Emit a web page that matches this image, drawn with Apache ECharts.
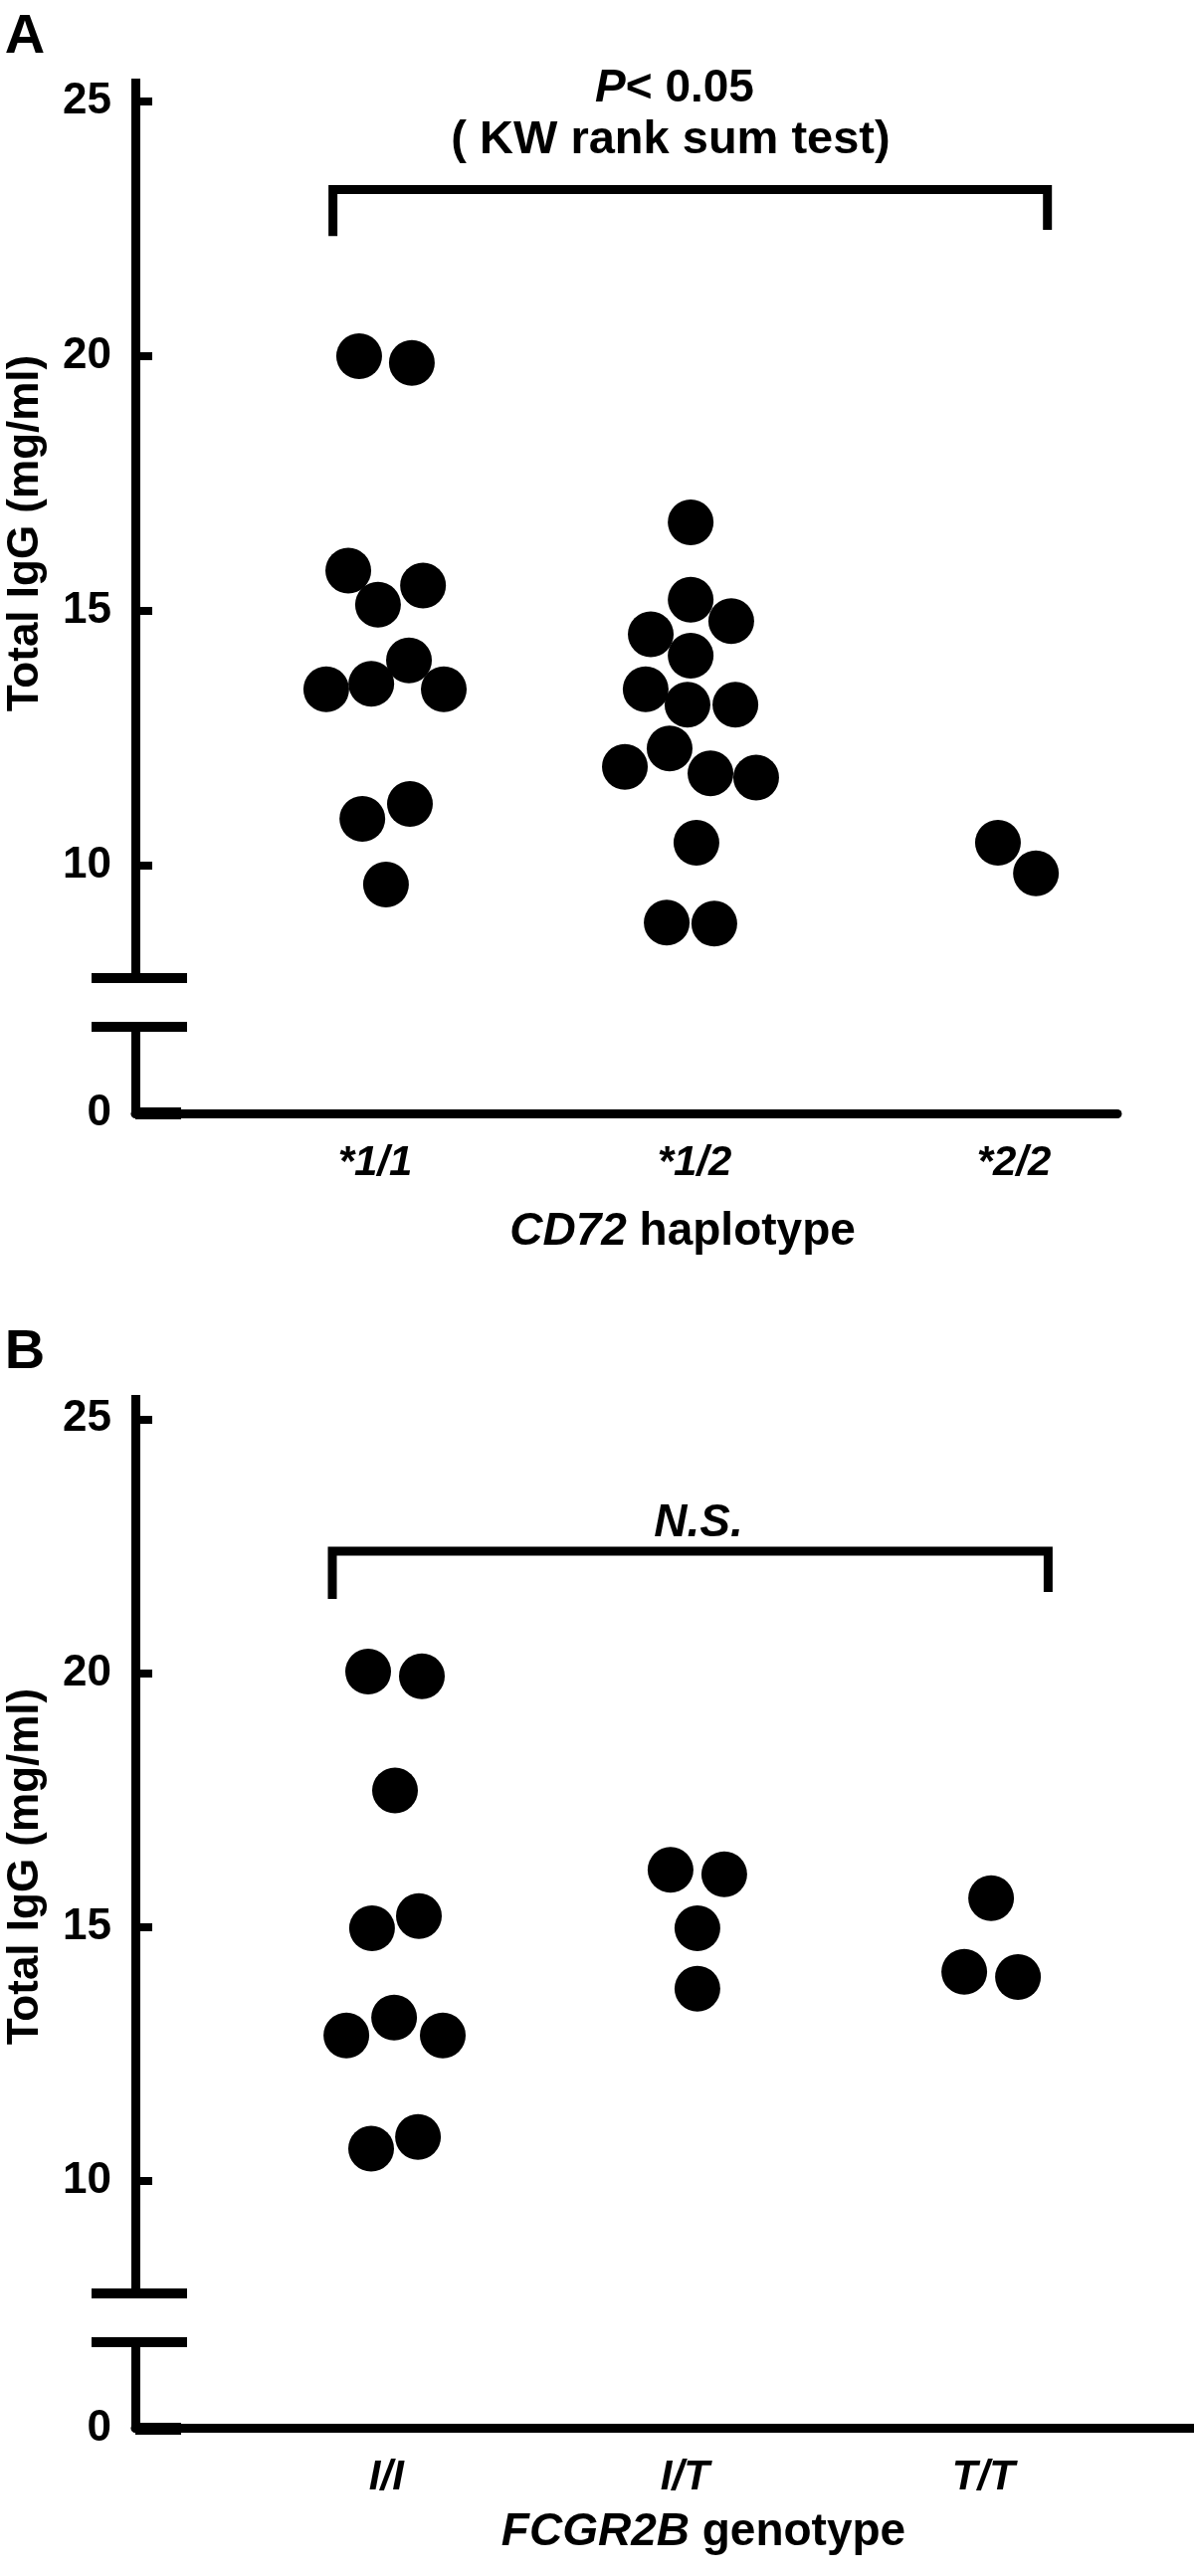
<!DOCTYPE html>
<html>
<head>
<meta charset="utf-8">
<script src="https://cdn.jsdelivr.net/npm/echarts@6/dist/echarts.min.js"></script>
<style>
  html, body { margin: 0; padding: 0; background: #fff; }
  #chart { width: 1200px; height: 2589px; }
</style>
</head>
<body>
<div id="chart"></div>
<script>
// ---------------- DATA ----------------
const catsA = ['*1/1', '*1/2', '*2/2'];
const catsB = ['I/I', 'I/T', 'T/T'];
const yTicks = [10, 15, 20, 25];
const zeroTick = [0];

// Panel A: CD72 haplotype, total IgG (mg/ml); jitter in category units
const a11Values = [20.0, 19.87, 15.79, 15.50, 15.12, 14.03, 13.57, 13.46, 13.46, 11.21, 10.92, 9.63];
const a11Jitter = [-0.050, 0.115, -0.084, 0.150, 0.009, 0.106, -0.012, -0.153, 0.215, 0.109, -0.040, 0.034];
const a12Values = [16.74, 15.22, 14.80, 14.54, 14.12, 13.46, 13.16, 13.16, 12.30, 11.94, 11.81, 11.73, 10.45, 8.88, 8.86];
const a12Jitter = [-0.012, -0.012, 0.115, -0.137, -0.012, -0.153, -0.022, 0.128, -0.078, -0.218, 0.050, 0.193, 0.006, -0.087, 0.062];
const a22Values = [10.45, 9.85];
const a22Jitter = [-0.050, 0.069];

// Panel B: FCGR2B genotype
const bIIValues = [20.03, 19.94, 17.69, 15.22, 14.98, 13.22, 12.87, 12.87, 10.87, 10.64];
const bIIJitter = [-0.061, 0.119, 0.029, 0.109, -0.048, 0.026, -0.134, 0.189, 0.106, -0.051];
const bITValues = [16.13, 16.04, 14.98, 13.79];
const bITJitter = [-0.048, 0.132, 0.042, 0.042];
const bTTValues = [15.57, 14.12, 14.02];
const bTTJitter = [0.026, -0.064, 0.116];

// significance brackets (data coordinates: category position, IgG)
const bracketA = [[0.868, 22.36], [0.868, 23.27], [3.105, 23.27], [3.105, 22.48]];
const bracketB = [[0.819, 21.46], [0.819, 22.40], [3.217, 22.40], [3.217, 21.60]];

// ---------------- CHART ----------------
const FONT = '"Liberation Sans", Arial, Helvetica, sans-serif';
const chart = echarts.init(document.getElementById('chart'), null, { renderer: 'canvas', width: 1200, height: 2589 });

function pts(vals, jit, pos) { return vals.map((v, i) => [pos + jit[i], v]); }

const dotsA = [].concat(pts(a11Values, a11Jitter, 1), pts(a12Values, a12Jitter, 2), pts(a22Values, a22Jitter, 3));
const dotsB = [].concat(pts(bIIValues, bIIJitter, 1), pts(bITValues, bITJitter, 2), pts(bTTValues, bTTJitter, 3));

// layout (pixels)
const L = {
  left: 136,
  aTop: 79, aBreak: 983, aLowTop: 1032, aBase: 1119, aRight: 1123,
  bTop: 1402, bBreak: 2305, bLowTop: 2354, bBase: 2440.5, bRight: 1200
};

function upperY(min, max) {
  return {
    type: 'value', min: min, max: max,
    splitLine: { show: false },
    axisLine: { show: true, onZero: false, lineStyle: { color: '#000', width: 9, cap: 'butt' } },
    axisTick: { show: true, inside: true, length: 17, customValues: yTicks, lineStyle: { color: '#000', width: 8 } },
    axisLabel: { show: true, customValues: yTicks, margin: 24, color: '#000', fontSize: 44, fontWeight: 'bold', fontFamily: FONT }
  };
}
function lowerY(max) {
  return {
    type: 'value', min: 0, max: max,
    splitLine: { show: false },
    axisLine: { show: true, onZero: false, lineStyle: { color: '#000', width: 9 } },
    axisTick: { show: true, inside: true, length: 46, customValues: zeroTick, lineStyle: { color: '#000', width: 12 } },
    axisLabel: { show: true, customValues: zeroTick, margin: 24, color: '#000', fontSize: 44, fontWeight: 'bold', fontFamily: FONT }
  };
}
function hiddenX(min, max) {
  return { type: 'value', min: min, max: max, show: false, splitLine: { show: false } };
}
function shownX(min, max, cats) {
  return {
    type: 'value', min: min, max: max, position: 'bottom',
    splitLine: { show: false },
    axisLine: { show: true, onZero: false, lineStyle: { color: '#000', width: 9 } },
    axisTick: { show: false },
    axisLabel: {
      show: true, customValues: [1, 2, 3], margin: 29,
      formatter: v => cats[Math.round(v) - 1] || '',
      color: '#000', fontSize: 42, fontWeight: 'bold', fontStyle: 'italic', fontFamily: FONT
    }
  };
}

const aMin = (L.left - 56) / 321, aMax = (L.aRight - 56) / 321;
const bMin = (L.left - 88.3) / 300, bMax = (L.bRight - 88.3) / 300;

function breakBars(y1, y2) {
  return [y1, y2].map(y => ({
    type: 'line', silent: true,
    shape: { x1: 92, y1: y, x2: 188, y2: y },
    style: { stroke: '#000', lineWidth: 10 }
  }));
}
function txt(x, y, text, size, extra, rot) {
  return {
    type: 'text', x: x, y: y, rotation: rot || 0, silent: true,
    style: Object.assign({
      text: text, fill: '#000', fontSize: size, fontWeight: 'bold', fontFamily: FONT,
      align: 'center', verticalAlign: 'middle'
    }, extra || {})
  };
}
const italicRich = size => ({ i: { fontStyle: 'italic', fontWeight: 'bold', fontSize: size, fontFamily: FONT, fill: '#000' } });

const option = {
  animation: false,
  backgroundColor: '#fff',
  grid: [
    { left: L.left, top: L.aTop, width: L.aRight - L.left, height: L.aBreak - L.aTop, outerBoundsMode: 'none' },
    { left: L.left, top: L.aLowTop, width: L.aRight - L.left, height: L.aBase - L.aLowTop, outerBoundsMode: 'none' },
    { left: L.left, top: L.bTop, width: L.bRight - L.left, height: L.bBreak - L.bTop, outerBoundsMode: 'none' },
    { left: L.left, top: L.bLowTop, width: L.bRight - L.left, height: L.bBase - L.bLowTop, outerBoundsMode: 'none' }
  ],
  xAxis: [
    Object.assign(hiddenX(aMin, aMax), { gridIndex: 0 }),
    Object.assign(shownX(aMin, aMax, catsA), { gridIndex: 1 }),
    Object.assign(hiddenX(bMin, bMax), { gridIndex: 2 }),
    Object.assign(shownX(bMin, bMax, catsB), { gridIndex: 3 })
  ],
  yAxis: [
    Object.assign(upperY(7.793, 25.449), { gridIndex: 0 }),
    Object.assign(lowerY((L.aBase - L.aLowTop) / 51.2), { gridIndex: 1 }),
    Object.assign(upperY(7.791, 25.476), { gridIndex: 2 }),
    Object.assign(lowerY((L.bBase - L.bLowTop) / 51.06), { gridIndex: 3 })
  ],
  series: [
    { type: 'scatter', xAxisIndex: 0, yAxisIndex: 0, data: dotsA, symbol: 'circle', symbolSize: 46,
      itemStyle: { color: '#000', opacity: 1 } },
    { type: 'line', xAxisIndex: 0, yAxisIndex: 0, data: bracketA, showSymbol: false, symbol: 'none', silent: true,
      lineStyle: { color: '#000', width: 9, join: 'miter', cap: 'butt' } },
    { type: 'scatter', xAxisIndex: 2, yAxisIndex: 2, data: dotsB, symbol: 'circle', symbolSize: 46,
      itemStyle: { color: '#000', opacity: 1 } },
    { type: 'line', xAxisIndex: 2, yAxisIndex: 2, data: bracketB, showSymbol: false, symbol: 'none', silent: true,
      lineStyle: { color: '#000', width: 9, join: 'miter', cap: 'butt' } }
  ],
  graphic: [].concat(
    breakBars(L.aBreak, L.aLowTop),
    breakBars(L.bBreak, L.bLowTop),
    [
      txt(25, 38, 'A', 56),
      txt(25, 1360, 'B', 56),
      txt(26, 536, 'Total IgG (mg/ml)', 44, null, Math.PI / 2),
      txt(26, 1876, 'Total IgG (mg/ml)', 44, null, Math.PI / 2),
      txt(678, 89, '{i|P}< 0.05', 46, { rich: italicRich(46) }),
      txt(674, 141, '( KW rank sum test)', 47),
      txt(702, 1531, 'N.S.', 46, { fontStyle: 'italic' }),
      txt(686, 1238, '{i|CD72} haplotype', 46, { rich: italicRich(46) }),
      txt(707, 2545, '{i|FCGR2B} genotype', 46, { rich: italicRich(46) })
    ]
  )
};
chart.setOption(option);
</script>
</body>
</html>
